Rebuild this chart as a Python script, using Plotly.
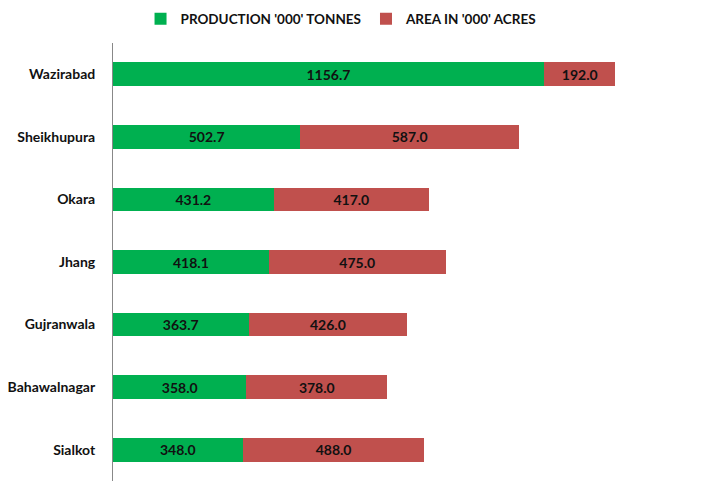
import plotly.graph_objects as go

districts = ["Wazirabad", "Sheikhupura", "Okara", "Jhang", "Gujranwala", "Bahawalnagar", "Sialkot"]
production = [1156.7, 502.7, 431.2, 418.1, 363.7, 358.0, 348.0]
area = [192.0, 587.0, 417.0, 475.0, 426.0, 378.0, 488.0]

FONT = "Lato"
fig = go.Figure()
fig.add_trace(go.Bar(
    y=districts, x=production, orientation="h", name="PRODUCTION '000' TONNES",
    marker=dict(color="#00B050", line=dict(width=0)),
    text=[f"{v:.1f}" for v in production], textposition="inside", insidetextanchor="middle",
    textfont=dict(family=FONT, size=14, color="#111111", weight="bold"), constraintext="none",
))
fig.add_trace(go.Bar(
    y=districts, x=area, orientation="h", name="AREA IN '000' ACRES",
    marker=dict(color="#C0504D", line=dict(width=0)),
    text=[f"{v:.1f}" for v in area], textposition="inside", insidetextanchor="middle",
    textfont=dict(family=FONT, size=14, color="#111111", weight="bold"), constraintext="none",
))
fig.update_layout(
    width=694, height=473, barmode="stack", bargap=0.62,
    margin=dict(l=105, r=0, t=35, b=0, autoexpand=False),
    paper_bgcolor="white", plot_bgcolor="white",
    font=dict(family=FONT, size=14, color="#111111"),
    legend=dict(orientation="h", x=0.4806, xanchor="center", xref="container",
                y=1.0548, yanchor="middle", yref="paper",
                bgcolor="rgba(0,0,0,0)",
                font=dict(family=FONT, size=13.5, color="#111111", weight="bold"),
                itemwidth=30, traceorder="normal"),
    showlegend=True,
)
fig.update_xaxes(range=[0, 1581], visible=False, showgrid=False, zeroline=False)
fig.update_yaxes(autorange="reversed", showline=True, linecolor="#888888", linewidth=1,
                 showgrid=False, ticks="", ticklabelstandoff=14, automargin=False,
                 tickfont=dict(family=FONT, size=14, color="#111111", weight="bold"))
fig.write_html("out.html")
